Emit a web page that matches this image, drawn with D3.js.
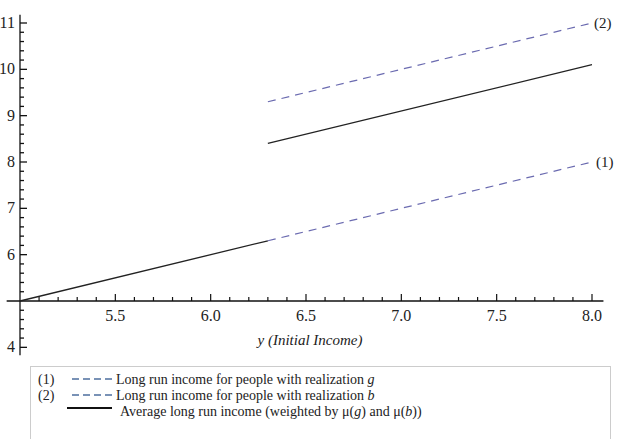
<!DOCTYPE html>
<html>
<head>
<meta charset="utf-8">
<script src="https://cdn.jsdelivr.net/npm/d3@7"></script>
<style>
  body { margin: 0; background: #fff; }
  svg text { font-family: "Liberation Serif", "Times New Roman", Times, serif; fill: #222; }
</style>
</head>
<body>
<div id="chart"></div>
<script>
// series: [initial income, long run income]
const averageLow = [[5.0, 5.0], [6.3, 6.3]];
const realizationG = [[6.3, 6.3], [8.0, 8.0]];
const realizationB = [[6.3, 9.3], [8.0, 11.0]];
const averageHigh = [[6.3, 8.4], [8.0, 10.1]];

const xMajor = [5.5, 6.0, 6.5, 7.0, 7.5, 8.0];
const yMajor = [4, 6, 7, 8, 9, 10, 11];
const legendRows = [
    { tag: "(1)", style: "dash", text: "Long run income for people with realization ", it: "g" },
    { tag: "(2)", style: "dash", text: "Long run income for people with realization ", it: "b" },
    { tag: "", style: "solid", text: "Average long run income (weighted by \u03bc(", it: "g", tail: ") and \u03bc(", it2: "b", tail2: "))" }
];

const width = 621, height = 439;
const dashColor = "#6b6bb0";

const svg = d3.select("#chart").append("svg")
    .attr("width", width)
    .attr("height", height);

const x = d3.scaleLinear().domain([5, 8]).range([20, 592]);
const y = d3.scaleLinear().domain([5, 11]).range([301, 23]);

// x axis line and ticks (ticks point up)
const xAxis = svg.append("g");
xAxis.append("line")
    .attr("x1", x(4.93)).attr("x2", x(8.06))
    .attr("y1", y(5)).attr("y2", y(5))
    .attr("stroke", "#111").attr("stroke-width", 1.3);
const xMinor = d3.range(51, 81).map(d => d / 10);
xAxis.selectAll(".xt").data(xMinor).join("line")
    .attr("x1", d => x(d)).attr("x2", d => x(d))
    .attr("y1", y(5))
    .attr("y2", d => y(5) - (Math.abs(d * 2 - Math.round(d * 2)) < 1e-6 ? 7 : 4))
    .attr("stroke", "#111").attr("stroke-width", 1.2);
xAxis.selectAll(".xl").data(xMajor).join("text")
    .attr("x", d => x(d)).attr("y", y(5) + 20)
    .attr("text-anchor", "middle")
    .attr("font-size", 16)
    .text(d => d.toFixed(1));

svg.append("text")
    .attr("x", 310).attr("y", 345)
    .attr("text-anchor", "middle")
    .attr("font-size", 15)
    .attr("font-style", "italic")
    .text("y (Initial Income)");

// y axis line and ticks (ticks point right)
const yAxis = svg.append("g");
yAxis.append("line")
    .attr("x1", x(5)).attr("x2", x(5))
    .attr("y1", y(11.18)).attr("y2", y(3.83))
    .attr("stroke", "#111").attr("stroke-width", 1.3);
const yMinor = d3.range(40, 111, 2).map(d => d / 10).filter(d => d !== 5);
yAxis.selectAll(".yt").data(yMinor).join("line")
    .attr("x1", x(5))
    .attr("x2", d => x(5) + (Math.abs(d - Math.round(d)) < 1e-6 ? 7 : 4))
    .attr("y1", d => y(d)).attr("y2", d => y(d))
    .attr("stroke", "#111").attr("stroke-width", 1.3);
yAxis.selectAll(".yl").data(yMajor).join("text")
    .attr("x", x(5) - 5).attr("y", d => y(d) + 5)
    .attr("text-anchor", "end")
    .attr("font-size", 16)
    .text(d => d);

// lines
const line = d3.line().x(d => x(d[0])).y(d => y(d[1]));
[realizationG, realizationB].forEach(s => {
    svg.append("path").attr("d", line(s))
        .attr("fill", "none").attr("stroke", dashColor).attr("stroke-width", 1.2)
        .attr("stroke-dasharray", "8,6");
});
[averageLow, averageHigh].forEach(s => {
    svg.append("path").attr("d", line(s))
        .attr("fill", "none").attr("stroke", "#222").attr("stroke-width", 1.3);
});

// end labels
svg.append("text")
    .attr("x", x(realizationB[1][0]) + 2).attr("y", y(realizationB[1][1]) + 5)
    .attr("font-size", 15).text("(2)");
svg.append("text")
    .attr("x", x(realizationG[1][0]) + 4).attr("y", y(realizationG[1][1]) + 5)
    .attr("font-size", 15).text("(1)");

// legend
const legend = svg.append("g");
legend.append("rect")
    .attr("x", 30.5).attr("y", 366.5)
    .attr("width", 580).attr("height", 80)
    .attr("fill", "#fff").attr("stroke", "#ccc").attr("stroke-width", 1);

legendRows.forEach((r, i) => {
    const by = 384 + i * 16;
    if (r.tag) {
        legend.append("text").attr("x", 38).attr("y", by)
            .attr("font-size", 14).text(r.tag);
    }
    if (r.style === "dash") {
        legend.append("line")
            .attr("x1", 72).attr("x2", 116)
            .attr("y1", by - 5).attr("y2", by - 5)
            .attr("stroke", "#4d6f9e").attr("stroke-width", 1.6)
            .attr("stroke-dasharray", "7,4");
        const t = legend.append("text").attr("x", 116).attr("y", by).attr("font-size", 14);
        t.append("tspan").text(r.text);
        t.append("tspan").attr("font-style", "italic").text(r.it);
    } else {
        legend.append("line")
            .attr("x1", 67).attr("x2", 112)
            .attr("y1", by - 8).attr("y2", by - 8)
            .attr("stroke", "#111").attr("stroke-width", 2);
        const t = legend.append("text").attr("x", 120).attr("y", by).attr("font-size", 14);
        t.append("tspan").text(r.text);
        t.append("tspan").attr("font-style", "italic").text(r.it);
        t.append("tspan").text(r.tail);
        t.append("tspan").attr("font-style", "italic").text(r.it2);
        t.append("tspan").text(r.tail2);
    }
});
</script>
</body>
</html>
